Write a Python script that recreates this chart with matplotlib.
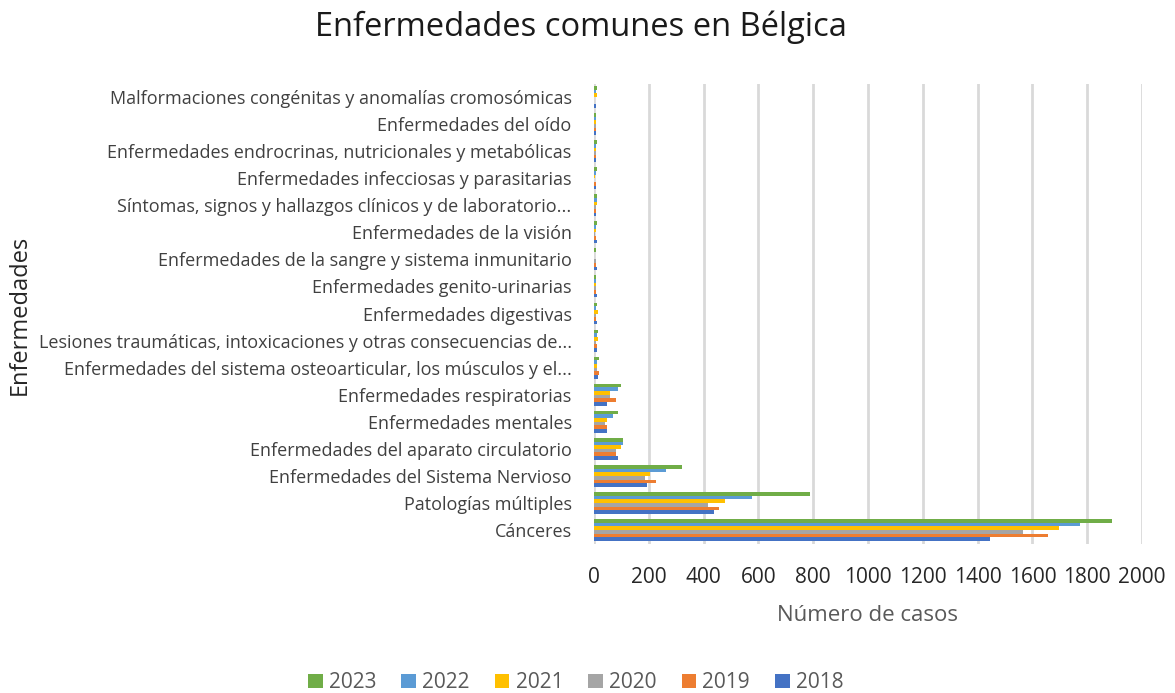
import numpy as np
import matplotlib
matplotlib.use("Agg")
import matplotlib.pyplot as plt

plt.rcParams['font.family'] = ['Open Sans', 'DejaVu Sans']

# categories from bottom to top
categorias = [
    "Cánceres",
    "Patologías múltiples",
    "Enfermedades del Sistema Nervioso",
    "Enfermedades del aparato circulatorio",
    "Enfermedades mentales",
    "Enfermedades respiratorias",
    "Enfermedades del sistema osteoarticular, los músculos y el...",
    "Lesiones traumáticas, intoxicaciones y otras consecuencias de...",
    "Enfermedades digestivas",
    "Enfermedades genito-urinarias",
    "Enfermedades de la sangre y sistema inmunitario",
    "Enfermedades de la visión",
    "Síntomas, signos y hallazgos clínicos y de laboratorio...",
    "Enfermedades infecciosas y parasitarias",
    "Enfermedades endrocrinas, nutricionales y metabólicas",
    "Enfermedades del oído",
    "Malformaciones congénitas y anomalías cromosómicas",
]

anios = ["2018", "2019", "2020", "2021", "2022", "2023"]
colores = ["#4472C4", "#ED7D31", "#A5A5A5", "#FFC000", "#5B9BD5", "#70AD47"]

v2018 = [1444, 439, 195, 87, 49, 49, 15, 10, 10, 10, 10, 10, 8, 8, 8, 8, 8]
v2019 = [1657, 457, 225, 79, 49, 79, 20, 12, 8, 8, 8, 8, 8, 8, 8, 8, 0]
v2020 = [1566, 418, 186, 79, 40, 60, 10, 8, 8, 8, 8, 5, 8, 0, 8, 8, 0]
v2021 = [1696, 478, 204, 99, 49, 60, 12, 15, 15, 8, 0, 8, 12, 5, 8, 8, 10]
v2022 = [1774, 576, 264, 107, 69, 87, 10, 10, 8, 8, 0, 8, 10, 8, 8, 8, 8]
v2023 = [1891, 789, 323, 107, 88, 99, 20, 15, 10, 8, 8, 10, 10, 10, 12, 8, 10]
valores = [v2018, v2019, v2020, v2021, v2022, v2023]

fig = plt.figure(figsize=(11.75, 6.93), dpi=100)
ax = fig.add_axes([0.5055, 0.2157, 0.4664, 0.6638])

y = np.arange(len(categorias))
h = 0.135
for i in range(len(anios)):
    ax.barh(y + (i - 2.5) * h, valores[i], height=h, color=colores[i],
            label=anios[i], zorder=3)

ax.set_xlim(0, 2000)
ax.set_ylim(-0.5, len(categorias) - 0.5)
ax.set_xticks(np.arange(0, 2001, 200))
ax.set_yticks(y)
ax.set_yticklabels(categorias, fontsize=13, color="#404040")
ax.tick_params(axis='x', labelsize=15, colors="#262626", length=0, pad=17)
ax.tick_params(axis='y', length=0, pad=16)
ax.grid(axis='x', color="#d9d9d9", linewidth=2, zorder=0)
for s in ax.spines.values():
    s.set_visible(False)

ax.set_xlabel("Número de casos", fontsize=16, color="#595959", labelpad=12)
fig.text(0.017, 0.545, "Enfermedades", rotation=90, fontsize=17,
         color="#262626", ha='center', va='center')

fig.suptitle("Enfermedades comunes en Bélgica", fontsize=23.5, x=0.494, y=0.985,
             color="#1a1a1a")

handles, labels = ax.get_legend_handles_labels()
fig.legend(handles[::-1], labels[::-1], loc='center', ncol=6,
           bbox_to_anchor=(0.49, 0.015), frameon=False, fontsize=15,
           handlelength=0.7, handleheight=0.7, handletextpad=0.3,
           columnspacing=1.2, labelcolor="#595959")

fig.savefig("out.png", dpi=100)
